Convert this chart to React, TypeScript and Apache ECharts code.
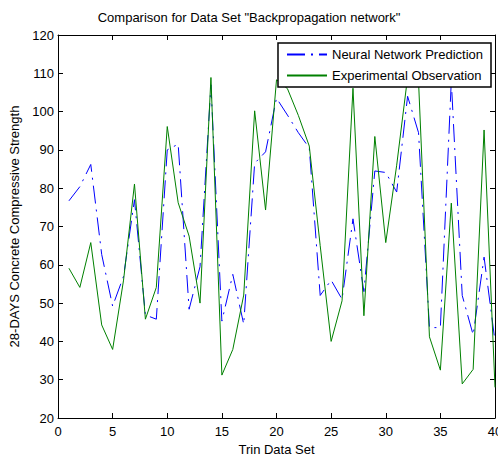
import React, { useEffect, useRef } from "react";
import * as echarts from "echarts";

const sampleIndex = [1, 2, 3, 4, 5, 6, 7, 8, 9, 10, 11, 12, 13, 14, 15, 16, 17, 18, 19, 20,
  21, 22, 23, 24, 25, 26, 27, 28, 29, 30, 31, 32, 33, 34, 35, 36, 37, 38, 39, 40];

const neuralPrediction = [76.7, 80.4, 86.2, 62.7, 49.2, 57, 77, 46.9, 45.8, 90,
  91.5, 48.4, 59.5, 107, 45.3, 57.5, 44.5, 86.5, 89.5, 103.5,
  99.1, 94.5, 90.5, 52, 56, 51, 72, 53, 84.5, 84.1,
  79, 104, 94.5, 43.6, 43.6, 108, 52, 41.7, 62, 40];

const experimentalObservation = [59.1, 54.1, 65.8, 44.3, 37.9, 56, 81.1, 45.8, 54.1, 96.1,
  76.2, 67.5, 50, 108.9, 31.2, 37.9, 52.1, 100.2, 74.3, 108.3,
  106, 99, 91, 65, 40, 50.6, 106.1, 46.7, 93.5, 65.8,
  86, 109, 108, 41.2, 32.5, 76.1, 28.9, 32.7, 95.2, 28];

const seriesNames = ["Neural Network Prediction", "Experimental Observation"];
const titleText = 'Comparison for Data Set "Backpropagation network"';
const xName = "Trin Data Set";
const yName = "28-DAYS Concrete Compressive Strength";

const FONT = "'Liberation Sans', Arial, Helvetica, sans-serif";

export default function App() {
  const ref = useRef<HTMLDivElement>(null);
  useEffect(() => {
    if (!ref.current) return;
    const chart = echarts.init(ref.current, undefined, { renderer: "svg" });
    const axisCommon = {
      axisLine: { show: true, onZero: false, lineStyle: { color: "#000", width: 1 } },
      axisTick: { show: true, inside: true, length: 5, lineStyle: { color: "#000" } },
      splitLine: { show: false },
    };
    chart.setOption({
      animation: false,
      backgroundColor: "#fff",
      title: {
        text: titleText,
        left: "center",
        top: 11,
        padding: [0, 0, 0, 54],
        textStyle: { fontFamily: FONT, fontSize: 13, fontWeight: "normal", color: "#000" },
      },
      legend: {
        orient: "vertical",
        right: 7,
        top: 43,
        padding: [5, 8, 5, 8],
        itemGap: 8,
        itemWidth: 40,
        itemHeight: 14,
        borderColor: "#000",
        borderWidth: 1.5,
        backgroundColor: "#fff",
        borderRadius: 0,
        itemStyle: { opacity: 0 },
        textStyle: { fontFamily: FONT, fontSize: 13, color: "#000" },
        data: seriesNames,
      },
      grid: {
        left: 58,
        right: 3,
        top: 35,
        bottom: 38,
        containLabel: false,
        outerBoundsMode: "none",
      },
      xAxis: [
        {
          type: "value",
          min: 0,
          max: 40,
          interval: 5,
          name: xName,
          nameLocation: "middle",
          nameGap: 24,
          nameTextStyle: { fontFamily: FONT, fontSize: 13, color: "#000" },
          axisLabel: { fontFamily: FONT, fontSize: 13, color: "#000", margin: 7 },
          ...axisCommon,
        },
        {
          type: "value",
          position: "top",
          min: 0,
          max: 40,
          interval: 5,
          axisLabel: { show: false },
          ...axisCommon,
        },
      ],
      yAxis: [
        {
          type: "value",
          min: 20,
          max: 120,
          interval: 10,
          name: yName,
          nameLocation: "middle",
          nameGap: 29,
          nameRotate: 90,
          nameTextStyle: { fontFamily: FONT, fontSize: 13, color: "#000" },
          axisLabel: { fontFamily: FONT, fontSize: 13, color: "#000", margin: 4 },
          ...axisCommon,
        },
        {
          type: "value",
          position: "right",
          min: 20,
          max: 120,
          interval: 10,
          axisLabel: { show: false },
          ...axisCommon,
        },
      ],
      series: [
        {
          name: seriesNames[0],
          type: "line",
          xAxisIndex: 0,
          yAxisIndex: 0,
          data: sampleIndex.map((x, i) => [x, neuralPrediction[i]]),
          showSymbol: false,
          symbol: "none",
          color: "#0000ff",
          lineStyle: { color: "#0000ff", width: 1, type: [18, 6, 2, 6] },
        },
        {
          name: seriesNames[1],
          type: "line",
          xAxisIndex: 0,
          yAxisIndex: 0,
          data: sampleIndex.map((x, i) => [x, experimentalObservation[i]]),
          showSymbol: false,
          symbol: "none",
          color: "#008000",
          lineStyle: { color: "#008000", width: 1, type: "solid" },
        },
      ],
    });
    return () => chart.dispose();
  }, []);
  return (
    <div
      ref={ref}
      style={{ position: "fixed", left: 0, top: 0, width: 498, height: 456 }}
    />
  );
}
